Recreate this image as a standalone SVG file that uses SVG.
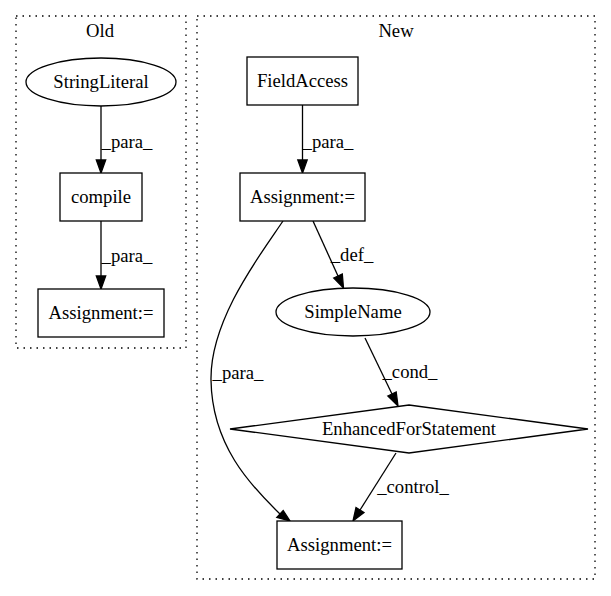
<svg xmlns="http://www.w3.org/2000/svg" width="611" height="596" viewBox="0 0 611 596" font-family="'Liberation Serif', 'Times New Roman', Times, 'DejaVu Serif', serif">
<defs>
<style>
text{font-size:18.67px;fill:#000;text-anchor:middle}
.cl{fill:none;stroke:#000;stroke-width:1.3;stroke-dasharray:1.5,5}
.nd{fill:#fff;stroke:#000;stroke-width:1.3}
.ed{fill:none;stroke:#000;stroke-width:1.3}
.ah{fill:#000;stroke:#000;stroke-width:1.3}
</style>
</defs>
<rect width="611" height="596" fill="#fff"/>
<g id="cluster_old">
<rect class="cl" x="16" y="16" width="170" height="332"/>
<text x="100" y="37">Old</text>
</g>
<g id="cluster_new">
<rect class="cl" x="197" y="16" width="398" height="563"/>
<text x="396" y="37">New</text>
</g>
<g id="connectors">
<path class="ed" d="M101,106 L101,160"/>
<polygon class="ah" points="96.3,160 105.7,160 101,173"/>
<text x="127" y="148">_para_</text>
<path class="ed" d="M101,221 L101,276"/>
<polygon class="ah" points="96.3,276 105.7,276 101,289"/>
<text x="127" y="262">_para_</text>
<path class="ed" d="M302.5,105 L302.5,160"/>
<polygon class="ah" points="297.8,160 307.2,160 302.5,173"/>
<text x="328" y="148">_para_</text>
<path class="ed" d="M313,221 L338,276"/>
<polygon class="ah" points="333.7,278 342.3,274 343.5,288"/>
<text x="352" y="261">_def_</text>
<path class="ed" d="M365,338 L392,394"/>
<polygon class="ah" points="387.8,396 396.2,392 398,406"/>
<text x="410" y="378">_cond_</text>
<path class="ed" d="M396,453 L360,510"/>
<polygon class="ah" points="356,507.5 364,512.5 353,521"/>
<text x="413" y="493">_control_</text>
<path class="ed" d="M283,221 C260,255 210,320 211,380 C212,445 250,485 280,514"/>
<polygon class="ah" points="276.8,517.5 283.2,510.5 290,521"/>
<text x="238" y="379">_para_</text>
</g>
<g id="node_stringliteral">
<ellipse class="nd" cx="101" cy="82" rx="75" ry="24"/>
<text x="101" y="88">StringLiteral</text>
</g>
<g id="node_compile">
<rect class="nd" x="60" y="173" width="82" height="48"/>
<text x="101" y="203">compile</text>
</g>
<g id="node_assign_old">
<rect class="nd" x="38" y="289" width="126" height="48"/>
<text x="101" y="319">Assignment:=</text>
</g>
<g id="node_fieldaccess">
<rect class="nd" x="247" y="57" width="111" height="48"/>
<text x="302.5" y="87">FieldAccess</text>
</g>
<g id="node_assign_new1">
<rect class="nd" x="240" y="173" width="125" height="48"/>
<text x="302.5" y="203">Assignment:=</text>
</g>
<g id="node_simplename">
<ellipse class="nd" cx="353" cy="312" rx="77" ry="24"/>
<text x="353" y="318">SimpleName</text>
</g>
<g id="node_enhancedfor">
<polygon class="nd" points="409,405 588,429 409,453 230,429"/>
<text x="409" y="435">EnhancedForStatement</text>
</g>
<g id="node_assign_new2">
<rect class="nd" x="277" y="521" width="125" height="48"/>
<text x="339.5" y="551">Assignment:=</text>
</g>
</svg>
